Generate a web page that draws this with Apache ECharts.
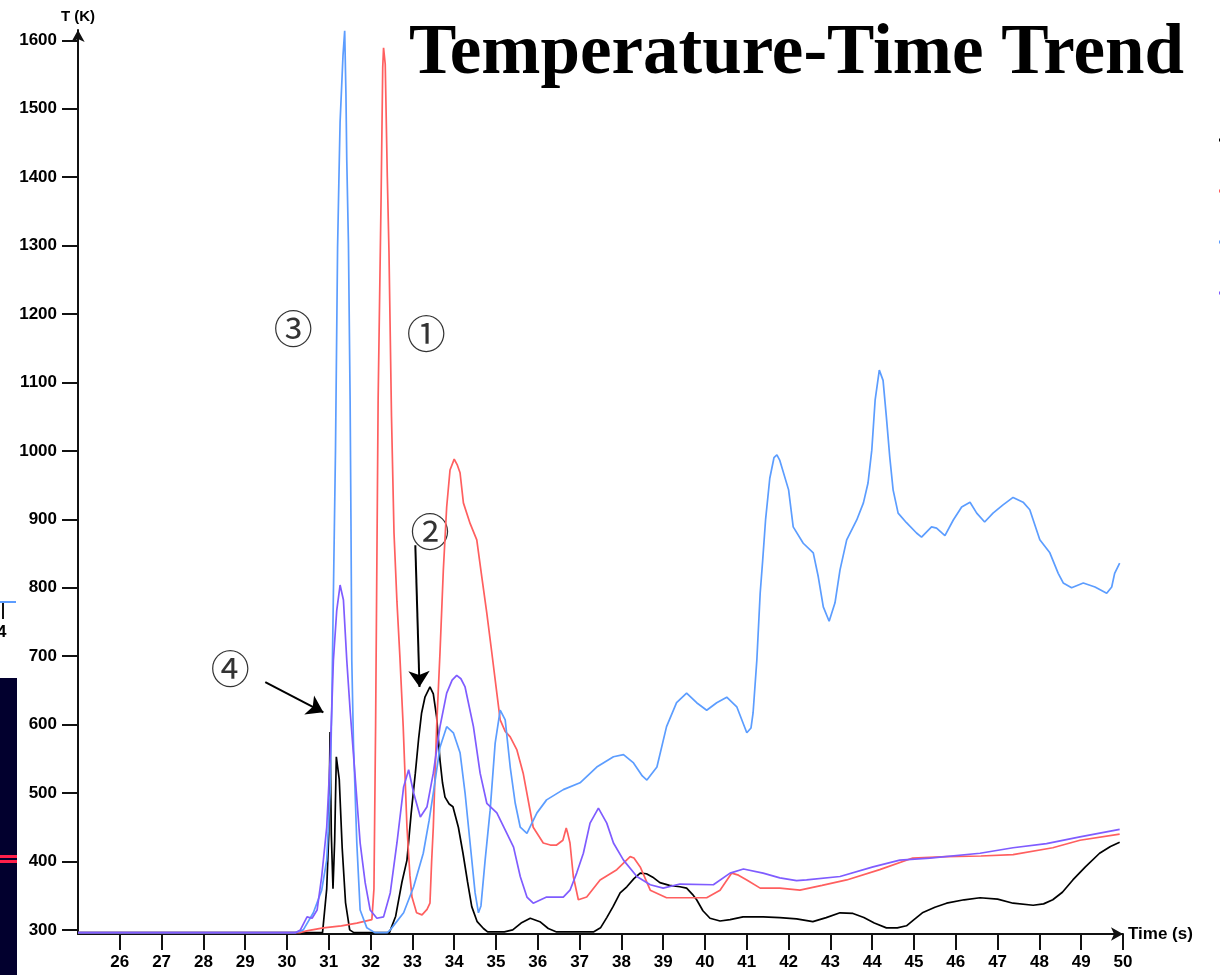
<!DOCTYPE html>
<html>
<head>
<meta charset="utf-8">
<title>Temperature-Time Trend</title>
<script src="https://cdn.jsdelivr.net/npm/echarts@6/dist/echarts.min.js"></script>
<style>
  html, body { margin: 0; padding: 0; background: #fff; }
  #chart { width: 1220px; height: 975px; }
</style>
</head>
<body>
<div id="chart"></div>
<script>
// tick values shown on the axes
var xTicks = [26, 27, 28, 29, 30, 31, 32, 33, 34, 35, 36, 37, 38, 39, 40, 41, 42, 43, 44, 45, 46, 47, 48, 49, 50];
var yTicks = [300, 400, 500, 600, 700, 800, 900, 1000, 1100, 1200, 1300, 1400, 1500, 1600];

// [time (s), temperature (K)]
var blackData = [[25,296],[30.85,296],[30.95,360],[31.0,440],[31.03,589],[31.06,440],[31.1,360],[31.14,430],[31.18,553],[31.25,520],
  [31.32,420],[31.4,340],[31.5,300],[31.6,296],[32.45,296],[32.6,320],[32.75,370],[32.87,402],[32.97,470],[33.07,529],
  [33.15,580],[33.22,617],[33.3,640],[33.42,655],[33.5,645],[33.58,611],[33.66,548],[33.72,515],[33.78,494],[33.88,484],
  [33.97,480],[34.1,450],[34.21,412],[34.32,370],[34.42,334],[34.55,312],[34.7,302],[34.8,297],[35.2,297],[35.4,300],
  [35.6,310],[35.82,317],[36.05,312],[36.25,302],[36.45,297],[37.33,297],[37.5,303],[37.65,318],[37.8,334],[37.97,354],
  [38.13,363],[38.3,375],[38.45,383],[38.6,382],[38.75,377],[38.92,369],[39.15,365],[39.4,363],[39.56,361],[39.7,352],
  [39.8,344],[39.95,328],[40.12,317],[40.36,313],[40.6,315],[40.91,319],[41.39,319],[41.79,318],[42.19,316],[42.58,312],
  [42.9,318],[43.23,325],[43.54,324],[43.8,318],[44.05,310],[44.34,303],[44.6,303],[44.82,306],[45.0,315],[45.2,325],
  [45.5,333],[45.78,339],[46.2,344],[46.58,347],[47.0,345],[47.37,339],[47.85,336],[48.1,338],[48.32,344],[48.55,355],
  [48.8,373],[49.1,392],[49.44,412],[49.7,422],[49.92,428]];

var redData = [[25,296],[30.3,296],[30.5,299],[30.87,303],[31.3,306],[31.67,310],[32.03,315],[32.08,360],[32.12,600],[32.18,1074],
  [32.25,1366],[32.29,1560],[32.31,1589],[32.35,1565],[32.4,1400],[32.44,1290],[32.5,1050],[32.56,880],[32.63,780],[32.7,700],
  [32.78,597],[32.87,450],[32.94,380],[32.99,348],[33.1,325],[33.23,322],[33.35,330],[33.42,339],[33.46,400],[33.5,450],
  [33.58,597],[33.66,705],[33.74,826],[33.82,918],[33.9,972],[34.0,988],[34.07,980],[34.14,968],[34.22,924],[34.38,894],
  [34.54,870],[34.66,816],[34.78,763],[34.9,705],[35.02,646],[35.1,607],[35.22,590],[35.34,582],[35.5,563],[35.65,529],
  [35.89,450],[36.13,427],[36.3,424],[36.45,424],[36.6,431],[36.68,449],[36.72,440],[36.77,427],[36.85,378],[36.97,344],
  [37.17,348],[37.49,373],[37.89,388],[38.21,407],[38.3,405],[38.45,392],[38.69,358],[39.08,347],[40.04,347],[40.36,358],
  [40.64,383],[40.8,380],[41.0,373],[41.32,361],[41.79,361],[42.27,358],[42.8,365],[43.39,373],[44.18,388],[44.97,405],
  [45.78,407],[46.6,408],[47.37,410],[48.32,420],[48.97,431],[49.92,440]];

var blueData = [[25,296],[30.2,296],[30.39,300],[30.63,325],[30.83,358],[30.95,402],[31.03,500],[31.07,621],[31.11,792],[31.16,1000],
  [31.21,1296],[31.24,1391],[31.27,1480],[31.34,1578],[31.38,1614],[31.41,1522],[31.43,1425],[31.47,1303],[31.51,1074],[31.53,900],
  [31.55,694],[31.59,573],[31.67,427],[31.75,329],[31.91,303],[32.1,296],[32.4,296],[32.47,300],[32.79,325],[33.03,363],
  [33.26,412],[33.4,460],[33.5,500],[33.66,567],[33.82,597],[33.98,588],[34.14,559],[34.26,500],[34.38,427],[34.5,354],
  [34.58,325],[34.64,335],[34.74,402],[34.86,475],[34.98,573],[35.1,621],[35.22,607],[35.34,538],[35.46,485],[35.58,450],
  [35.74,441],[35.85,455],[35.98,471],[36.21,490],[36.61,505],[37.01,515],[37.41,538],[37.81,553],[38.05,556],[38.29,544],
  [38.5,525],[38.61,519],[38.85,538],[39.08,597],[39.32,632],[39.56,646],[39.8,632],[40.04,621],[40.28,632],[40.52,640],
  [40.76,626],[41.0,588],[41.1,595],[41.15,617],[41.24,694],[41.32,792],[41.38,840],[41.45,900],[41.55,960],[41.65,990],
  [41.72,994],[41.79,986],[42.0,943],[42.11,889],[42.35,865],[42.59,851],[42.71,816],[42.83,772],[42.97,751],[43.11,778],
  [43.23,826],[43.39,870],[43.63,899],[43.79,924],[43.9,953],[43.99,1001],[44.07,1074],[44.17,1118],[44.26,1103],[44.34,1049],
  [44.42,991],[44.5,943],[44.62,909],[44.82,895],[45.06,880],[45.18,874],[45.42,889],[45.54,887],[45.74,876],[45.94,899],
  [46.14,918],[46.34,925],[46.5,909],[46.69,896],[46.89,909],[47.13,921],[47.37,932],[47.61,925],[47.77,914],[48.01,870],
  [48.25,851],[48.45,821],[48.57,807],[48.77,800],[49.05,807],[49.33,801],[49.61,792],[49.73,801],[49.8,821],[49.92,836]];

var purpleData = [[25,296],[30.2,296],[30.32,300],[30.48,319],[30.6,317],[30.72,329],[30.83,378],[30.95,450],[31.03,548],[31.07,621],
  [31.11,694],[31.19,767],[31.27,804],[31.35,782],[31.43,694],[31.51,621],[31.63,524],[31.75,427],[31.87,369],[31.99,329],
  [32.15,317],[32.31,319],[32.47,354],[32.63,427],[32.79,509],[32.91,534],[33.03,500],[33.19,465],[33.35,480],[33.5,529],
  [33.66,597],[33.82,646],[33.95,665],[34.06,672],[34.16,667],[34.26,655],[34.46,597],[34.62,529],[34.78,485],[35.02,471],
  [35.26,441],[35.42,421],[35.58,378],[35.74,348],[35.89,339],[36.21,348],[36.61,348],[36.77,358],[36.93,383],[37.09,412],
  [37.25,456],[37.45,478],[37.65,456],[37.81,427],[38.05,402],[38.37,378],[38.69,366],[39.0,361],[39.4,367],[40.2,366],
  [40.6,383],[40.92,389],[41.39,383],[41.79,376],[42.19,372],[42.43,373],[43.23,378],[44.02,392],[44.66,402],[45.38,405],
  [46.58,412],[47.37,420],[48.17,426],[48.97,436],[49.92,447]];

// circled markers and the arrows pointing at the curves
var markerNames = ['①', '②', '③', '④'];
var markerPos = [[33.33, 1172], [33.42, 882], [30.15, 1179], [28.64, 683]];
var arrowFrom = [[33.07, 862], [29.48, 662]];
var arrowTo = [[33.17, 655], [30.87, 618]];

var seriesNames = ['T2', 'T1', 'T3', 'T4'];
var seriesColors = ['#000000', '#ff5f5f', '#5c9dff', '#7f5cff'];
var seriesData = [blackData, redData, blueData, purpleData];

var chartDom = document.getElementById('chart');
var myChart = echarts.init(chartDom, null, {renderer: 'canvas'});

var boldLabel = {fontFamily: 'Liberation Sans', fontWeight: 'bold', fontSize: 17, color: '#000'};

var series = seriesData.map(function (d, i) {
    return {
        name: seriesNames[i],
        type: 'line',
        data: d,
        symbol: 'none',
        clip: false,
        lineStyle: {color: seriesColors[i], width: 1.7},
        itemStyle: {color: seriesColors[i]},
        animation: false
    };
});

series.push({
    name: 'markers',
    type: 'scatter',
    symbolSize: 0,
    silent: true,
    animation: false,
    data: markerPos.map(function (p, i) {
        return {name: markerNames[i], value: p};
    }),
    label: {
        show: true,
        position: 'inside',
        formatter: '{b}',
        fontFamily: 'Noto Sans CJK JP',
        fontSize: 39,
        color: '#000'
    },
    markLine: {
        silent: true,
        animation: false,
        symbol: ['none', 'arrow'],
        symbolSize: 16,
        label: {show: false},
        lineStyle: {color: '#000', width: 2, type: 'solid'},
        data: arrowFrom.map(function (p, i) {
            return [{coord: p}, {coord: arrowTo[i]}];
        })
    }
});

var option = {
    backgroundColor: '#fff',
    animation: false,
    title: {
        text: 'Temperature-Time Trend',
        left: 404,
        top: 14,
        textStyle: {fontFamily: 'Liberation Serif', fontWeight: 'bold', fontSize: 71, color: '#000'}
    },
    legend: {
        orient: 'vertical',
        left: 1214,
        top: 128,
        icon: 'rect',
        itemWidth: 14,
        itemHeight: 3,
        itemGap: 37,
        data: seriesNames,
        formatter: function (name) { return name; },
        textStyle: {fontSize: 12, lineHeight: 14, color: '#000'}
    },
    grid: {left: 78, right: 97, top: 30, bottom: 41},
    xAxis: {
        type: 'value',
        min: 25,
        max: 50,
        name: 'Time (s)',
        nameLocation: 'end',
        nameGap: 5,
        nameTextStyle: boldLabel,
        axisLine: {show: true, symbol: ['none', 'arrow'], symbolSize: [10, 12], lineStyle: {color: '#111', width: 2}},
        axisTick: {show: true, customValues: xTicks, length: 16, lineStyle: {color: '#111', width: 2}},
        axisLabel: Object.assign({customValues: xTicks, margin: 20, formatter: function (v) { return String(v); }}, boldLabel),
        splitLine: {show: false}
    },
    yAxis: {
        type: 'value',
        min: 294,
        max: 1615,
        name: 'T (K)',
        nameLocation: 'end',
        nameGap: 6,
        nameTextStyle: {fontFamily: 'Liberation Sans', fontWeight: 'bold', fontSize: 15, color: '#000'},
        axisLine: {show: true, symbol: ['none', 'arrow'], symbolSize: [10, 12], lineStyle: {color: '#111', width: 2}},
        axisTick: {show: true, customValues: yTicks, length: 16, lineStyle: {color: '#111', width: 2}},
        axisLabel: Object.assign({customValues: yTicks, margin: 21, formatter: function (v) { return String(v); }}, boldLabel),
        splitLine: {show: false}
    },
    // edge of a neighbouring picture on the left side
    graphic: [
        {type: 'rect', shape: {x: 0, y: 601, width: 16, height: 2}, style: {fill: '#5c9dff'}},
        {type: 'line', shape: {x1: 3, y1: 603, x2: 3, y2: 619}, style: {stroke: '#111', lineWidth: 2}},
        {type: 'text', x: -3, y: 624, style: {text: '4', font: 'bold 17px "Liberation Sans"', fill: '#000'}},
        {type: 'rect', shape: {x: 0, y: 678, width: 17, height: 297}, style: {fill: '#02002e'}},
        {type: 'rect', shape: {x: 0, y: 855, width: 17, height: 3}, style: {fill: '#ff1f4a'}},
        {type: 'rect', shape: {x: 0, y: 860, width: 17, height: 3}, style: {fill: '#ff1f4a'}}
    ],
    series: series
};

option && myChart.setOption(option);
</script>
</body>
</html>
